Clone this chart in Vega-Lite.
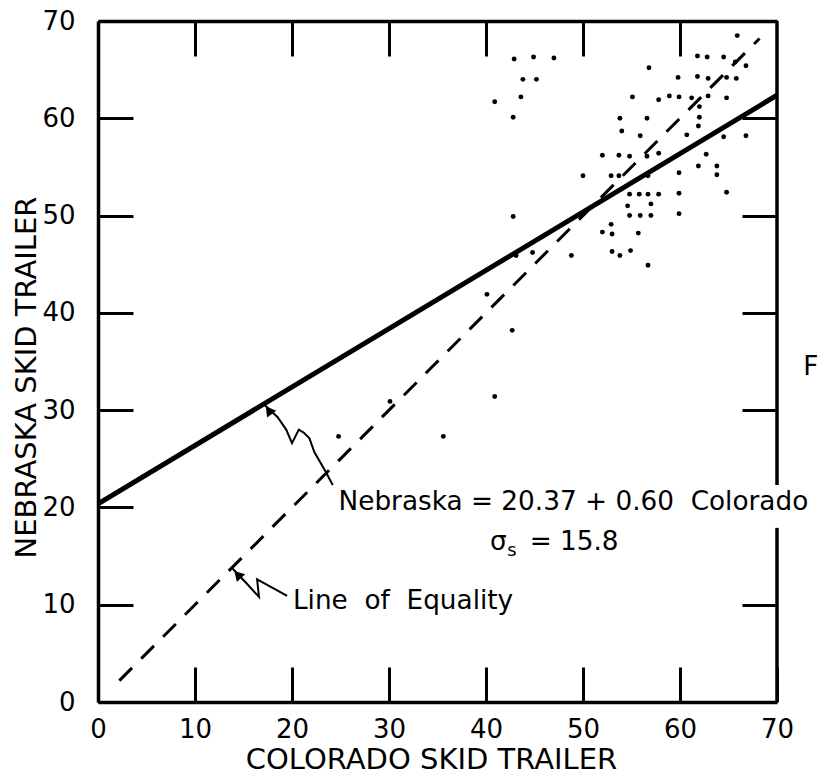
{
  "$schema": "https://vega.github.io/schema/vega-lite/v6.json",
  "width": 679,
  "height": 681,
  "autosize": "none",
  "padding": {"left": 98, "top": 21, "right": 43, "bottom": 73},
  "background": "white",
  "config": {"view": {"stroke": null}, "font": "DejaVu Sans"},
  "resolve": {"axis": {"x": "independent", "y": "independent"}},
  "layer": [
    {
      "data": {"values": [
        {"x": 42.9, "y": 66.1}, {"x": 44.9, "y": 66.3}, {"x": 47.0, "y": 66.2}, {"x": 43.8, "y": 64.0},
        {"x": 45.2, "y": 64.0}, {"x": 40.9, "y": 61.7}, {"x": 43.6, "y": 62.2}, {"x": 42.8, "y": 60.1},
        {"x": 65.9, "y": 68.5}, {"x": 61.8, "y": 66.4}, {"x": 62.8, "y": 66.3}, {"x": 64.5, "y": 66.3},
        {"x": 65.7, "y": 65.8}, {"x": 66.8, "y": 65.4}, {"x": 56.8, "y": 65.2}, {"x": 59.8, "y": 64.2},
        {"x": 61.8, "y": 64.3}, {"x": 62.9, "y": 64.1}, {"x": 64.8, "y": 64.2}, {"x": 65.8, "y": 64.1},
        {"x": 55.1, "y": 62.2}, {"x": 57.8, "y": 61.9}, {"x": 58.9, "y": 62.3}, {"x": 59.9, "y": 62.2},
        {"x": 61.2, "y": 62.1}, {"x": 62.9, "y": 62.3}, {"x": 64.8, "y": 62.1}, {"x": 62.0, "y": 61.2},
        {"x": 53.8, "y": 60.0}, {"x": 56.6, "y": 60.0}, {"x": 62.0, "y": 60.1}, {"x": 54.0, "y": 58.7},
        {"x": 55.9, "y": 58.2}, {"x": 60.7, "y": 58.3}, {"x": 61.9, "y": 59.2}, {"x": 64.5, "y": 58.1},
        {"x": 66.8, "y": 58.2}, {"x": 52.0, "y": 56.2}, {"x": 53.7, "y": 56.2}, {"x": 54.8, "y": 56.1},
        {"x": 56.6, "y": 56.1}, {"x": 57.8, "y": 56.4}, {"x": 62.7, "y": 56.3}, {"x": 61.9, "y": 55.1},
        {"x": 63.8, "y": 55.1}, {"x": 50.0, "y": 54.1}, {"x": 52.9, "y": 54.1}, {"x": 53.7, "y": 54.1},
        {"x": 56.7, "y": 54.1}, {"x": 59.9, "y": 54.4}, {"x": 63.8, "y": 54.2}, {"x": 54.8, "y": 52.2},
        {"x": 55.8, "y": 52.2}, {"x": 56.7, "y": 52.2}, {"x": 57.8, "y": 52.2}, {"x": 59.9, "y": 52.3},
        {"x": 64.8, "y": 52.4}, {"x": 54.6, "y": 51.0}, {"x": 57.0, "y": 51.2}, {"x": 54.8, "y": 50.0},
        {"x": 55.9, "y": 50.0}, {"x": 57.0, "y": 50.0}, {"x": 59.9, "y": 50.2}, {"x": 52.9, "y": 49.1},
        {"x": 52.0, "y": 48.3}, {"x": 53.0, "y": 48.1}, {"x": 55.7, "y": 48.2}, {"x": 53.0, "y": 46.3},
        {"x": 53.8, "y": 45.9}, {"x": 54.9, "y": 46.4}, {"x": 56.7, "y": 44.9}, {"x": 42.8, "y": 49.9},
        {"x": 43.1, "y": 45.9}, {"x": 44.8, "y": 46.2}, {"x": 48.8, "y": 45.9}, {"x": 40.1, "y": 41.9},
        {"x": 42.7, "y": 38.2}, {"x": 40.9, "y": 31.4}, {"x": 30.1, "y": 30.9}, {"x": 24.8, "y": 27.3},
        {"x": 35.6, "y": 27.3}
      ]},
      "mark": {"type": "point", "shape": "circle", "filled": true, "color": "black", "size": 24, "opacity": 1},
      "encoding": {
        "x": {"field": "x", "type": "quantitative", "scale": {"domain": [0, 70], "nice": false},
          "axis": {"title": "COLORADO SKID TRAILER", "orient": "bottom", "values": [0, 10, 20, 30, 40, 50, 60, 70],
            "tickSize": -35, "tickWidth": 3, "tickColor": "black", "domainWidth": 3.5, "domainColor": "black",
            "labelFontSize": 26, "labelFont": "DejaVu Sans", "labelColor": "black", "labelPadding": 49, "labelFlush": false,
            "labelBaseline": "top", "grid": false,
            "titleFontSize": 29, "titleFont": "DejaVu Sans", "titleFontWeight": "normal", "titleColor": "black",
            "titleX": 333, "titleY": 57, "titleBaseline": "middle", "titleAlign": "center"}},
        "y": {"field": "y", "type": "quantitative", "scale": {"domain": [0, 70], "nice": false},
          "axis": {"title": "NEBRASKA SKID TRAILER", "orient": "left", "values": [0, 10, 20, 30, 40, 50, 60, 70],
            "tickSize": -35, "tickWidth": 3, "tickColor": "black", "domainWidth": 3.5, "domainColor": "black",
            "labelFontSize": 26, "labelFont": "DejaVu Sans", "labelColor": "black", "labelPadding": 58, "labelFlush": false,
            "labelBaseline": "middle", "grid": false,
            "titleFontSize": 29, "titleFont": "DejaVu Sans", "titleFontWeight": "normal", "titleColor": "black",
            "titleX": -72, "titleY": 356, "titleAngle": -90, "titleBaseline": "middle", "titleAlign": "center"}}
      }
    },
    {
      "data": {"values": [{"x": 70, "y": 0, "y2": 17.9}, {"x": 70, "y": 22.3, "y2": 70}]},
      "mark": {"type": "rule", "color": "black", "strokeWidth": 3.5},
      "encoding": {
        "x": {"field": "x", "type": "quantitative", "scale": {"domain": [0, 70], "nice": false},
          "axis": {"orient": "top", "title": null, "labels": false, "values": [10, 20, 30, 40, 50, 60],
            "tickSize": -35, "tickWidth": 3, "tickColor": "black", "domainWidth": 3.5, "domainColor": "black", "grid": false}},
        "y": {"field": "y", "type": "quantitative", "scale": {"domain": [0, 70], "nice": false},
          "axis": {"orient": "right", "title": null, "labels": false, "values": [10, 30, 40, 50, 60],
            "tickSize": -35, "tickWidth": 3, "tickColor": "black", "domain": false, "grid": false}},
        "y2": {"field": "y2"}
      }
    },
    {
      "data": {"values": [{"x": 0, "y": 20.37}, {"x": 70, "y": 62.37}]},
      "mark": {"type": "line", "color": "black", "strokeWidth": 5},
      "encoding": {
        "x": {"field": "x", "type": "quantitative", "axis": null},
        "y": {"field": "y", "type": "quantitative", "axis": null}
      }
    },
    {
      "data": {"values": [{"x": 2.2, "y": 2.2}, {"x": 68.2, "y": 68.2}]},
      "mark": {"type": "line", "color": "black", "strokeWidth": 3, "strokeDash": [18, 13]},
      "encoding": {
        "x": {"field": "x", "type": "quantitative", "axis": null},
        "y": {"field": "y", "type": "quantitative", "axis": null}
      }
    },
    {
      "data": {"values": [
        {"o": 0, "x": 24.2, "y": 22.3}, {"o": 1, "x": 23.4, "y": 23.8}, {"o": 2, "x": 22.3, "y": 25.7},
        {"o": 3, "x": 21.8, "y": 27.1}, {"o": 4, "x": 21.2, "y": 27.7}, {"o": 5, "x": 20.7, "y": 28.0},
        {"o": 6, "x": 20.3, "y": 27.2}, {"o": 7, "x": 20.0, "y": 26.6}, {"o": 8, "x": 19.4, "y": 28.0},
        {"o": 9, "x": 18.5, "y": 29.3}, {"o": 10, "x": 17.1, "y": 30.6}
      ]},
      "mark": {"type": "line", "color": "black", "strokeWidth": 2},
      "encoding": {
        "x": {"field": "x", "type": "quantitative", "axis": null},
        "y": {"field": "y", "type": "quantitative", "axis": null},
        "order": {"field": "o"}
      }
    },
    {
      "data": {"values": [
        {"o": 0, "x": 19.5, "y": 10.9}, {"o": 1, "x": 16.4, "y": 12.6}, {"o": 2, "x": 16.6, "y": 10.8},
        {"o": 3, "x": 15.4, "y": 12.1}, {"o": 4, "x": 13.8, "y": 13.8}
      ]},
      "mark": {"type": "line", "color": "black", "strokeWidth": 2},
      "encoding": {
        "x": {"field": "x", "type": "quantitative", "axis": null},
        "y": {"field": "y", "type": "quantitative", "axis": null},
        "order": {"field": "o"}
      }
    },
    {
      "data": {"values": [{"x": 17.6, "y": 30.0, "a": 323}, {"x": 14.4, "y": 13.1, "a": 317}]},
      "mark": {"type": "point", "shape": "triangle-up", "filled": true, "color": "black", "size": 130, "opacity": 1},
      "encoding": {
        "x": {"field": "x", "type": "quantitative", "axis": null},
        "y": {"field": "y", "type": "quantitative", "axis": null},
        "angle": {"field": "a", "type": "quantitative", "scale": null}
      }
    },
    {
      "data": {"values": [
        {"x": 24.8, "y": 19.7, "label": "Nebraska = 20.37 + 0.60\u00a0\u00a0Colorado"},
        {"x": 40.4, "y": 15.6, "label": "σ"},
        {"x": 44.5, "y": 15.6, "label": "= 15.8"},
        {"x": 20.1, "y": 9.6, "label": "Line\u00a0\u00a0of\u00a0\u00a0Equality"},
        {"x": 72.7, "y": 33.6, "label": "F"}
      ]},
      "mark": {"type": "text", "align": "left", "baseline": "alphabetic", "fontSize": 26.3, "font": "DejaVu Sans", "color": "black"},
      "encoding": {
        "x": {"field": "x", "type": "quantitative", "axis": null},
        "y": {"field": "y", "type": "quantitative", "axis": null},
        "text": {"field": "label"}
      }
    },
    {
      "data": {"values": [{"x": 42.2, "y": 15.0, "label": "s"}]},
      "mark": {"type": "text", "align": "left", "baseline": "alphabetic", "fontSize": 18, "font": "DejaVu Sans", "color": "black"},
      "encoding": {
        "x": {"field": "x", "type": "quantitative", "axis": null},
        "y": {"field": "y", "type": "quantitative", "axis": null},
        "text": {"field": "label"}
      }
    }
  ]
}
